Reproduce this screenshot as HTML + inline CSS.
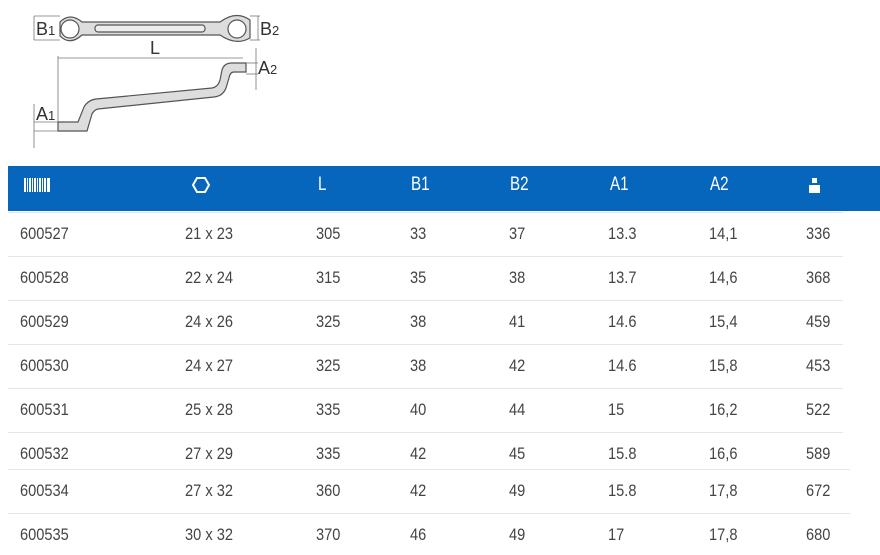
<!DOCTYPE html>
<html><head><meta charset="utf-8"><style>
body{margin:0;width:880px;height:555px;background:#fff;position:relative;overflow:hidden;font-family:"Liberation Sans",sans-serif;}
.h{position:absolute;left:8px;top:166px;width:872px;height:45px;background:#0566bb;}
.t{position:absolute;font-size:17px;color:#444;line-height:20px;transform:scaleX(0.86);transform-origin:0 0;white-space:nowrap;}
.w{color:#fff;font-size:19px;transform:scaleX(0.8);}
.l{position:absolute;left:8px;height:1px;background:#e6e6e6;}
</style></head><body>
<svg width="300" height="150" style="position:absolute;left:0;top:0">
<g stroke="#555" fill="#ddd" stroke-width="1.2">
<path d="M60,22 Q70,12 82,22 L220,22 Q236,10 250,20 L250,38 Q236,46 220,35 L82,35 Q70,46 60,36 Z"/>
<circle cx="70" cy="29" r="9" fill="#fff"/><circle cx="237" cy="29" r="9" fill="#fff"/>
<rect x="95" y="25" width="110" height="7" rx="3" fill="#eee"/>
<path d="M58,122 L78,122 L84,107 Q88,100 96,99 L212,88 Q218,87 220,80 L222,70 Q224,63 232,63 L246,63 L246,72 L234,72 Q230,72 229,78 L226,88 Q223,96 214,97 L98,109 Q94,110 92,114 L87,131 L58,131 Z"/>
</g>
<g stroke="#777" stroke-width="0.8" fill="none">
<line x1="34" y1="16" x2="34" y2="40"/><line x1="34" y1="16" x2="60" y2="16"/><line x1="34" y1="40" x2="60" y2="40"/>
<line x1="258" y1="16" x2="258" y2="40"/><line x1="250" y1="16" x2="260" y2="16"/><line x1="250" y1="40" x2="260" y2="40"/>
<line x1="58" y1="58" x2="243" y2="58"/><line x1="58" y1="56" x2="58" y2="122"/>
<line x1="256" y1="48" x2="256" y2="90"/><line x1="246" y1="63" x2="258" y2="63"/><line x1="246" y1="74" x2="258" y2="74"/>
<line x1="34" y1="104" x2="34" y2="148"/><line x1="34" y1="122" x2="58" y2="122"/><line x1="34" y1="131" x2="58" y2="131"/>
</g>
<g font-family="Liberation Sans,sans-serif" fill="#333">
<text x="36" y="35" font-size="18">B<tspan font-size="13">1</tspan></text>
<text x="260" y="35" font-size="18">B<tspan font-size="13">2</tspan></text>
<text x="150" y="54" font-size="18">L</text>
<text x="258" y="74" font-size="18">A<tspan font-size="13">2</tspan></text>
<text x="36" y="120" font-size="18">A<tspan font-size="13">1</tspan></text>
</g>
</svg>
<div class="h"></div>
<svg width="880" height="45" style="position:absolute;left:0;top:166px">
<g fill="#fff">
<rect x="24" y="12" width="2" height="14"/><rect x="27" y="12" width="1" height="14"/><rect x="29" y="12" width="2" height="14"/><rect x="32" y="12" width="1" height="14"/><rect x="34" y="12" width="2" height="14"/><rect x="37" y="12" width="1" height="14"/><rect x="39" y="12" width="2" height="14"/><rect x="42" y="12" width="1" height="14"/><rect x="44" y="12" width="2" height="14"/><rect x="47" y="12" width="3" height="14"/>
<polygon points="193,19 197,12 205,12 209,19 205,26 197,26" fill="none" stroke="#fff" stroke-width="2"/>
<rect x="809" y="19" width="11" height="8"/><rect x="812" y="12" width="5" height="5"/>
</g>
</svg>
<div class="t w" style="left:318px;top:175px">L</div>
<div class="t w" style="left:411px;top:175px">B1</div>
<div class="t w" style="left:510px;top:175px">B2</div>
<div class="t w" style="left:610px;top:175px">A1</div>
<div class="t w" style="left:710px;top:175px">A2</div>
<div class="l" style="top:212px;width:835px;background:#d8e8f6"></div>
<div class="l" style="top:256px;width:835px"></div>
<div class="l" style="top:300px;width:835px"></div>
<div class="l" style="top:344px;width:835px"></div>
<div class="l" style="top:388px;width:835px"></div>
<div class="l" style="top:432px;width:835px"></div>
<div class="l" style="top:469px;width:842px"></div>
<div class="l" style="top:513px;width:842px"></div>
<div id="rows"></div>
<script>
var d=[[234,"600527","21 x 23","305","33","37","13.3","14,1","336"],
[278,"600528","22 x 24","315","35","38","13.7","14,6","368"],
[322,"600529","24 x 26","325","38","41","14.6","15,4","459"],
[366,"600530","24 x 27","325","38","42","14.6","15,8","453"],
[410,"600531","25 x 28","335","40","44","15","16,2","522"],
[454,"600532","27 x 29","335","42","45","15.8","16,6","589"],
[491,"600534","27 x 32","360","42","49","15.8","17,8","672"],
[535,"600535","30 x 32","370","46","49","17","17,8","680"]];
var xs=[20,185,316,410,509,608,709,806],h="";
d.forEach(function(r){for(var i=0;i<8;i++)h+='<div class="t" style="left:'+xs[i]+'px;top:'+(r[0]-10)+'px">'+r[i+1]+'</div>';});
document.getElementById("rows").innerHTML=h;
</script>
</body></html>
